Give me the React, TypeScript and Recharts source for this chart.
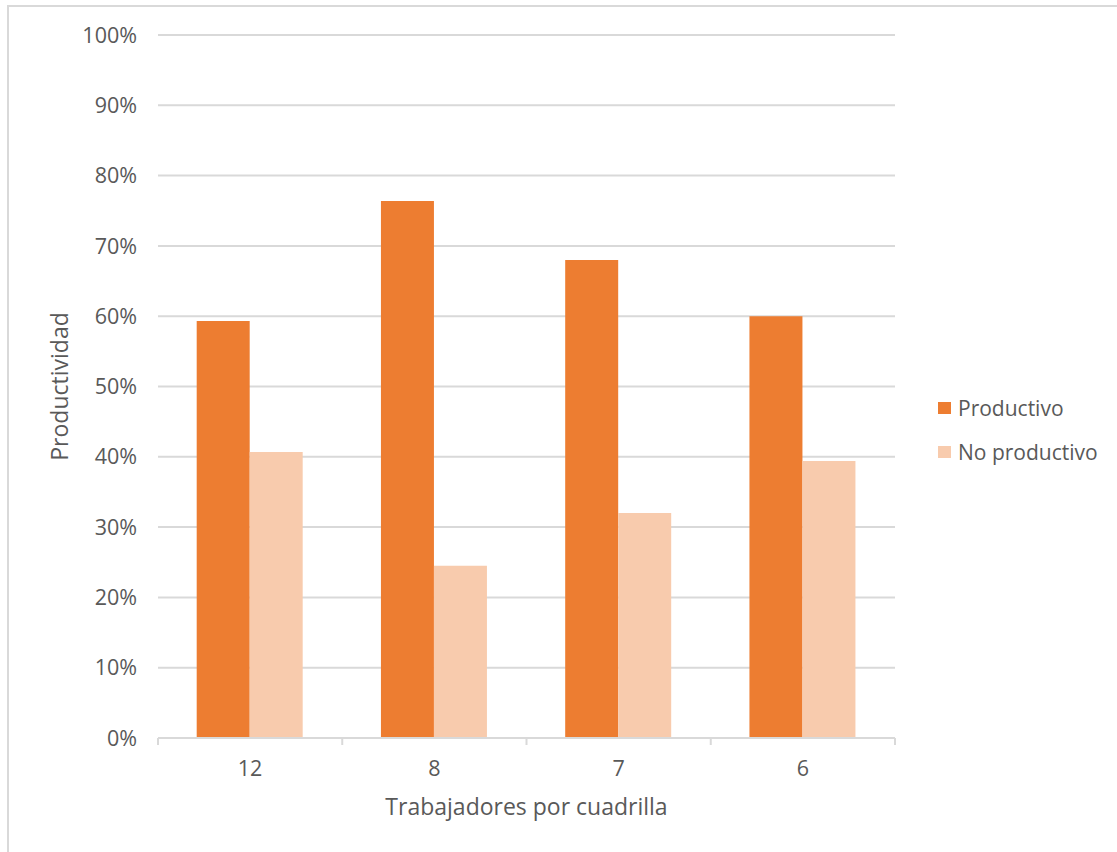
import React from "react";
import { BarChart, Bar, XAxis, YAxis, CartesianGrid, Legend } from "recharts";

const categories = ["12", "8", "7", "6"];
const productivo = [0.593, 0.764, 0.68, 0.60];
const noProductivo = [0.407, 0.245, 0.32, 0.394];
const yTicks = [0, 0.1, 0.2, 0.3, 0.4, 0.5, 0.6, 0.7, 0.8, 0.9, 1];
const seriesNames = ["Productivo", "No productivo"];
const colors = ["#ED7D31", "#F8CBAD"];

const data = categories.map((c, i) => ({
  name: c,
  prod: productivo[i],
  noprod: noProductivo[i],
}));

const FONT = "'Open Sans', sans-serif";
const TEXT = "#595959";
const GRID = "#d9d9d9";

const LegendContent = () => {
  return (
    <div style={{ fontFamily: FONT, fontSize: 21, color: TEXT }}>
      {seriesNames.map((n, i) => (
        <div key={i} style={{ display: "flex", alignItems: "center", height: 44 }}>
          <span style={{ display: "inline-block", width: 13, height: 12, background: colors[i], marginRight: 7 }} />
          <span>{n}</span>
        </div>
      ))}
    </div>
  );
};

// Category tick: label at band centre, plus boundary tick marks at band edges
const CatTick = (props: any) => {
  const { x, y, payload, index, visibleTicksCount } = props;
  const half = payload && payload.offset ? payload.offset : 0;
  const axisY = y - 23;
  const isLast = index === (visibleTicksCount ?? categories.length) - 1;
  return (
    <g>
      <line x1={x - half} x2={x - half} y1={axisY} y2={axisY + 7} stroke={GRID} strokeWidth={2} />
      {isLast && <line x1={x + half} x2={x + half} y1={axisY} y2={axisY + 7} stroke={GRID} strokeWidth={2} />}
      <text
        x={x}
        y={y}
        dy="0.71em"
        textAnchor="middle"
        fill={TEXT}
        fontSize={21.5}
        fontFamily={FONT}
      >
        {payload.value}
      </text>
    </g>
  );
};

export default function App() {
  return (
    <div style={{ position: "absolute", left: 0, top: 0, width: 1117, height: 852, background: "#fff", overflow: "hidden" }}>
      <div
        style={{
          position: "absolute",
          left: 7,
          top: 5,
          width: 1200,
          height: 900,
          borderLeft: "2px solid #d9d9d9",
          borderTop: "2px solid #d9d9d9",
        }}
      />
      <div style={{ position: "absolute", left: 0, top: 0 }}>
        <BarChart
          width={1117}
          height={852}
          data={data}
          margin={{ top: 35, right: 43, bottom: 0, left: 0 }}
          barCategoryGap="21%"
          barGap={0}
        >
          <CartesianGrid horizontal vertical={false} stroke={GRID} strokeWidth={2} />
          <XAxis
            dataKey="name"
            axisLine={{ stroke: GRID, strokeWidth: 2 }}
            tickLine={false}
            tickSize={0}
            tickMargin={23}
            height={114}
            interval={0}
            tick={<CatTick />}
            label={{
              value: "Trabajadores por cuadrilla",
              position: "insideBottom",
              offset: 37,
              style: { fill: TEXT, fontSize: 23, fontFamily: FONT },
            }}
          />
          <YAxis
            width={158}
            domain={[0, 1]}
            ticks={yTicks}
            axisLine={false}
            tickLine={false}
            tickSize={0}
            tickMargin={21}
            tickFormatter={(v: number) => `${Math.round(v * 100)}%`}
            tick={{ fill: TEXT, fontSize: 21.5, fontFamily: FONT }}
            label={{
              value: "Productividad",
              angle: -90,
              position: "insideLeft",
              offset: 60,
              style: { fill: TEXT, fontSize: 23, fontFamily: FONT, textAnchor: "middle" },
            }}
          />
          <Legend
            layout="vertical"
            align="right"
            verticalAlign="middle"
            content={<LegendContent />}
            wrapperStyle={{ position: "absolute", left: 938, top: 386, width: 179 }}
          />
          <Bar dataKey="prod" name={seriesNames[0]} fill={colors[0]} isAnimationActive={false} />
          <Bar dataKey="noprod" name={seriesNames[1]} fill={colors[1]} isAnimationActive={false} />
        </BarChart>
      </div>
    </div>
  );
}
